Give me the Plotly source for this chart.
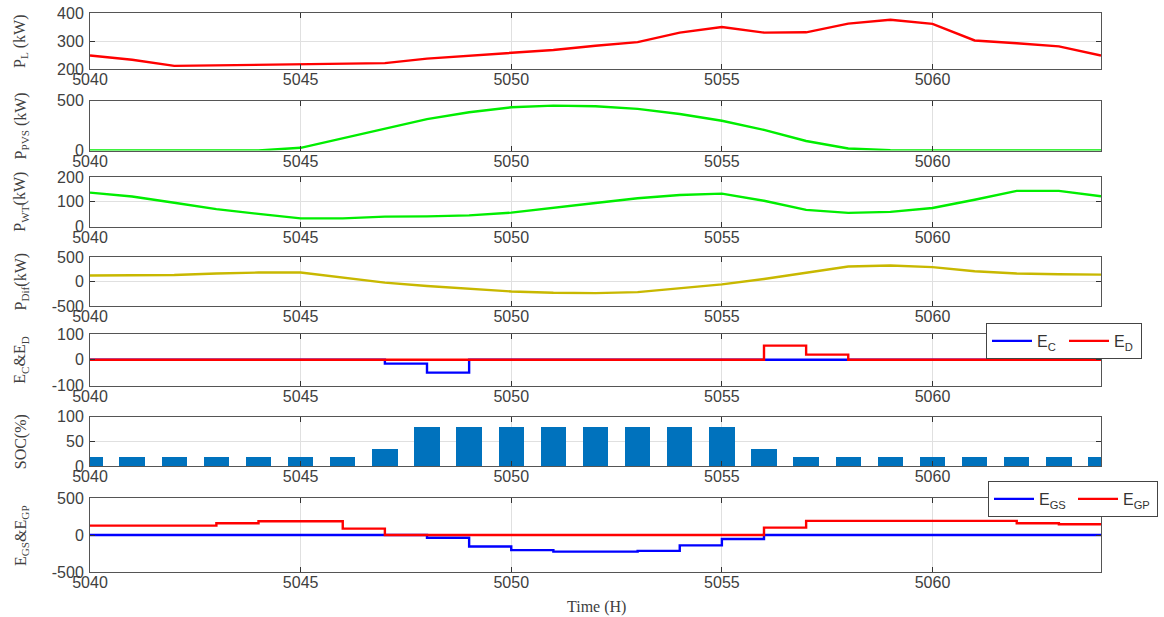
import plotly.graph_objects as go

hours = list(range(5040, 5065))

p_load = [248, 233, 211, 213, 215, 218, 220, 221, 237, 248, 258, 268, 283, 296, 330,
          350, 330, 331, 362, 376, 361, 302, 292, 281, 248]
p_pvs = [0, 0, 0, 0, 0, 27, 122, 223, 314, 382, 432, 449, 443, 416, 365,
         297, 206, 95, 20, 3, 0, 0, 0, 0, 0]
p_wt = [137, 121, 96, 70, 51, 33, 33, 40, 41, 45, 56, 74, 95, 114, 127,
        133, 104, 67, 55, 59, 75, 108, 144, 144, 122]
p_dif = [121, 128, 134, 162, 183, 183, 86, -24, -93, -155, -203, -231, -238, -217, -141,
         -59, 52, 183, 307, 328, 293, 210, 162, 148, 141]
e_c = [0, 0, 0, 0, 0, 0, 0, -15, -50, 0, 0, 0, 0, 0, 0,
       0, 0, 0, 0, 0, 0, 0, 0, 0, 0]
e_d = [0, 0, 0, 0, 0, 0, 0, 0, 0, 0, 0, 0, 0, 0, 0,
       0, 55, 20, 0, 0, 0, 0, 0, 0, 0]
soc = [20, 20, 20, 20, 20, 20, 20, 35, 80, 80, 80, 80, 80, 80, 80,
       80, 35, 20, 20, 20, 20, 20, 20, 20, 20]
e_gs = [0, 0, 0, 0, 0, 0, 0, 0, -38, -155, -205, -225, -225, -215, -140,
        -55, 0, 0, 0, 0, 0, 0, 0, 0, 0]
e_gp = [127, 127, 127, 159, 186, 186, 86, 0, 0, 0, 0, 0, 0, 0, 0,
        0, 100, 191, 191, 191, 191, 191, 159, 145, 145]

x_ticks = [5040, 5045, 5050, 5055, 5060]
y_titles = ["P<sub>L</sub> (kW)", "P<sub>PVS</sub> (kW)", "P<sub>WT</sub>(kW)",
            "P<sub>Dif</sub>(kW)", "E<sub>C</sub>&E<sub>D</sub>", "SOC(%)",
            "E<sub>GS</sub>&E<sub>GP</sub>"]
y_ranges = [[200, 400], [0, 500], [0, 200], [-500, 500], [-100, 100], [0, 100], [-500, 500]]
y_tickvals = [[200, 300, 400], [0, 500], [0, 100, 200], [-500, 0, 500],
              [-100, 0, 100], [0, 50, 100], [-500, 0, 500]]

W, H = 1164, 617
panel_px = [(13, 69), (100.5, 150.5), (177, 226.5), (257, 306), (334, 385.5), (416.5, 466), (498, 572)]
x_dom = [90 / W, 1101 / W]

fig = go.Figure()

def add_line(i, y, color, name=None, legend=None, shape="linear"):
    fig.add_trace(go.Scatter(
        x=hours, y=y, mode="lines", line=dict(color=color, width=2.4, shape=shape),
        xaxis="x" if i == 1 else f"x{i}", yaxis="y" if i == 1 else f"y{i}",
        name=name, showlegend=name is not None, legend=legend or "legend",
        hoverinfo="skip"))

add_line(1, p_load, "#ff0000")
add_line(2, p_pvs, "#00ee00")
add_line(3, p_wt, "#00ee00")
add_line(4, p_dif, "#c8b800")
add_line(5, e_c, "#0000ff", "E<sub>C</sub>", "legend", "hv")
add_line(5, e_d, "#ff0000", "E<sub>D</sub>", "legend", "hv")
fig.add_trace(go.Bar(x=hours, y=soc, width=0.6, marker=dict(color="#0072BD", line=dict(width=0)),
                     xaxis="x6", yaxis="y6", showlegend=False, hoverinfo="skip"))
add_line(7, e_gs, "#0000ff", "E<sub>GS</sub>", "legend2", "hv")
add_line(7, e_gp, "#ff0000", "E<sub>GP</sub>", "legend2", "hv")

tick_font = dict(family="Liberation Sans, Arial, sans-serif", size=16, color="#404040")
layout = dict(
    width=W, height=H, margin=dict(l=0, r=0, t=0, b=0, autoexpand=False),
    paper_bgcolor="white", plot_bgcolor="white", bargap=0,
    showlegend=True,
)
annotations = []
for i in range(1, 8):
    top, bot = panel_px[i - 1]
    y_dom = [1 - bot / H, 1 - top / H]
    xk = "xaxis" if i == 1 else f"xaxis{i}"
    yk = "yaxis" if i == 1 else f"yaxis{i}"
    layout[xk] = dict(
        domain=x_dom, anchor="y" if i == 1 else f"y{i}", range=[5040, 5064],
        tickvals=x_ticks, ticktext=[str(v) for v in x_ticks], automargin=False,
        showgrid=True, gridcolor="#e0e0e0", gridwidth=1, zeroline=False,
        showline=True, linecolor="#555555", linewidth=1, mirror="ticks",
        ticks="inside", ticklen=5, tickcolor="#333333",
        tickfont=tick_font, ticklabelstandoff=-4,
    )
    layout[yk] = dict(
        domain=y_dom, anchor="x" if i == 1 else f"x{i}", range=y_ranges[i - 1],
        tickvals=y_tickvals[i - 1], ticktext=[str(v) for v in y_tickvals[i - 1]],
        automargin=False,
        showgrid=True, gridcolor="#e0e0e0", gridwidth=1, zeroline=False,
        showline=True, linecolor="#555555", linewidth=1, mirror="ticks",
        ticks="inside", ticklen=5, tickcolor="#333333",
        tickfont=tick_font, ticklabelstandoff=2,
    )
    annotations.append(dict(
        text=y_titles[i - 1], x=21 / W, y=1 - (top + bot) / 2 / H, xref="paper", yref="paper",
        xanchor="center", yanchor="middle", textangle=-90, showarrow=False,
        font=dict(family="Liberation Serif, Times New Roman, serif", size=16, color="#404040")))

annotations.append(dict(
    text="Time (H)", x=596 / W, y=1 - 607 / H, xref="paper", yref="paper",
    xanchor="center", yanchor="middle", showarrow=False,
    font=dict(family="Liberation Serif, Times New Roman, serif", size=16, color="#404040")))

layout["annotations"] = annotations
legend_style = dict(orientation="h", xanchor="left", yanchor="top",
                    bgcolor="white", bordercolor="#444444", borderwidth=1,
                    font=dict(family="Liberation Sans, Arial, sans-serif", size=16, color="#333333"),
                    itemwidth=40, tracegroupgap=0)
layout["legend"] = dict(legend_style, x=986 / W, y=1 - 323 / H, entrywidth=22)
layout["legend2"] = dict(legend_style, x=988 / W, y=1 - 481 / H, entrywidth=29)

fig.update_layout(**layout)
fig.write_html("out.html")
